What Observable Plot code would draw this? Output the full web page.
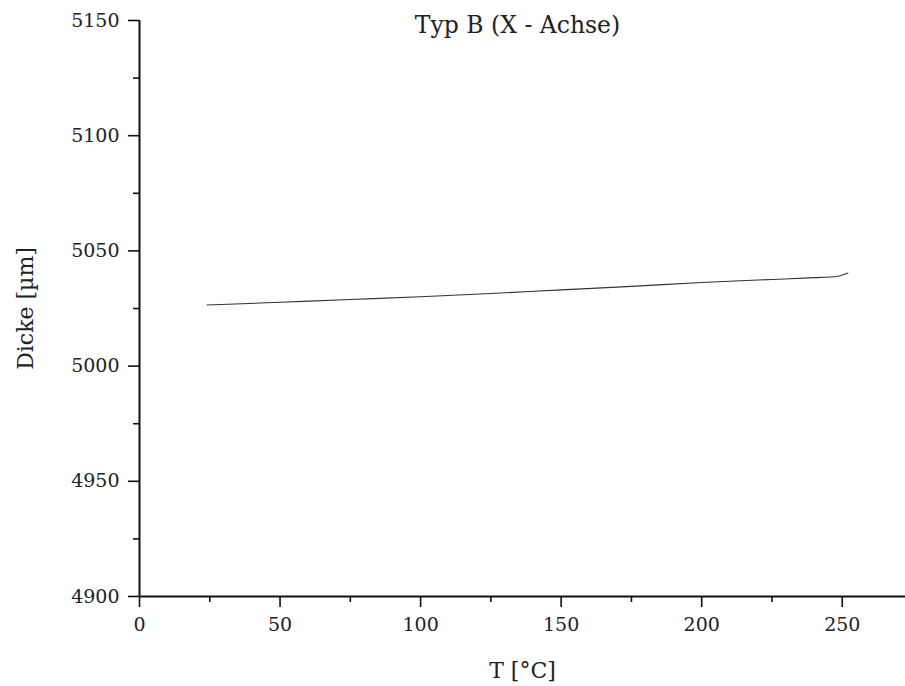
<!DOCTYPE html>
<html>
<head>
<meta charset="utf-8">
<script src="https://cdn.jsdelivr.net/npm/d3@7"></script>
<script src="https://cdn.jsdelivr.net/npm/@observablehq/plot@0.6"></script>
<style>
  html, body { margin: 0; padding: 0; background: #fff; }
  #chart svg { display: block; }
</style>
</head>
<body>
<div id="chart"></div>
<script>
// Data
const temperature = [24, 50, 75, 100, 125, 150, 175, 200, 225, 240, 248, 250, 252];
const thickness   = [5026.5, 5027.7, 5028.9, 5030.1, 5031.5, 5033.1, 5034.6, 5036.3, 5037.6, 5038.4, 5038.9, 5039.5, 5040.4];
const xMajorTicks = [0, 50, 100, 150, 200, 250];
const xMinorTicks = [25, 75, 125, 175, 225];
const yMajorTicks = [4900, 4950, 5000, 5050, 5100, 5150];
const yMinorTicks = [4925, 4975, 5025, 5075, 5125];
const title = "Typ B (X - Achse)";
const xLabel = "T [°C]";
const yLabel = "Dicke [µm]";

const data = temperature.map((t, i) => ({t, v: thickness[i]}));
const font = "'DejaVu Serif', serif";

const chart = Plot.plot({
  width: 905,
  height: 686,
  marginLeft: 139,
  marginRight: 0,
  marginTop: 20,
  marginBottom: 90,
  style: {fontFamily: font, fontSize: "18px", color: "#222", background: "#fff"},
  x: {domain: [0, 272.5]},
  y: {domain: [4900, 5150]},
  marks: [
    Plot.axisX(xMinorTicks, {tickSize: 6, tickFormat: () => "", label: null, strokeWidth: 1.6, stroke: "#111"}),
    Plot.axisX(xMajorTicks, {tickSize: 11, tickPadding: 10, tickFormat: d3.format("d"), label: xLabel, labelAnchor: "center", labelArrow: "none", labelOffset: 81, strokeWidth: 1.6, stroke: "#111"}),
    Plot.axisY(yMinorTicks, {tickSize: 6, tickFormat: () => "", label: null, strokeWidth: 1.6, stroke: "#111"}),
    Plot.axisY(yMajorTicks, {tickSize: 11, tickPadding: 9, tickFormat: d3.format("d"), label: yLabel, labelAnchor: "center", labelArrow: "none", labelOffset: 122, strokeWidth: 1.6, stroke: "#111"}),
    Plot.ruleX([0], {stroke: "#111", strokeWidth: 2}),
    Plot.ruleY([4900], {stroke: "#111", strokeWidth: 2}),
    Plot.line(data, {x: "t", y: "v", stroke: "#333", strokeWidth: 1.1, curve: "monotone-x"}),
    Plot.text([title], {frameAnchor: "top", dx: -5, dy: -4, text: d => d, fontSize: 23.5, fill: "#222"})
  ]
});
document.getElementById("chart").append(chart);
// font sizes for axis tick labels and axis titles
chart.querySelectorAll("g[aria-label='x-axis tick label'], g[aria-label='y-axis tick label']").forEach(g => g.setAttribute("font-size", "19"));
chart.querySelectorAll("g[aria-label='x-axis label'], g[aria-label='y-axis label']").forEach(g => g.setAttribute("font-size", "22"));
chart.querySelectorAll("g[aria-label='x-axis label'] text, g[aria-label='y-axis label'] text").forEach(t => t.setAttribute("font-size", "22"));
</script>
</body>
</html>
